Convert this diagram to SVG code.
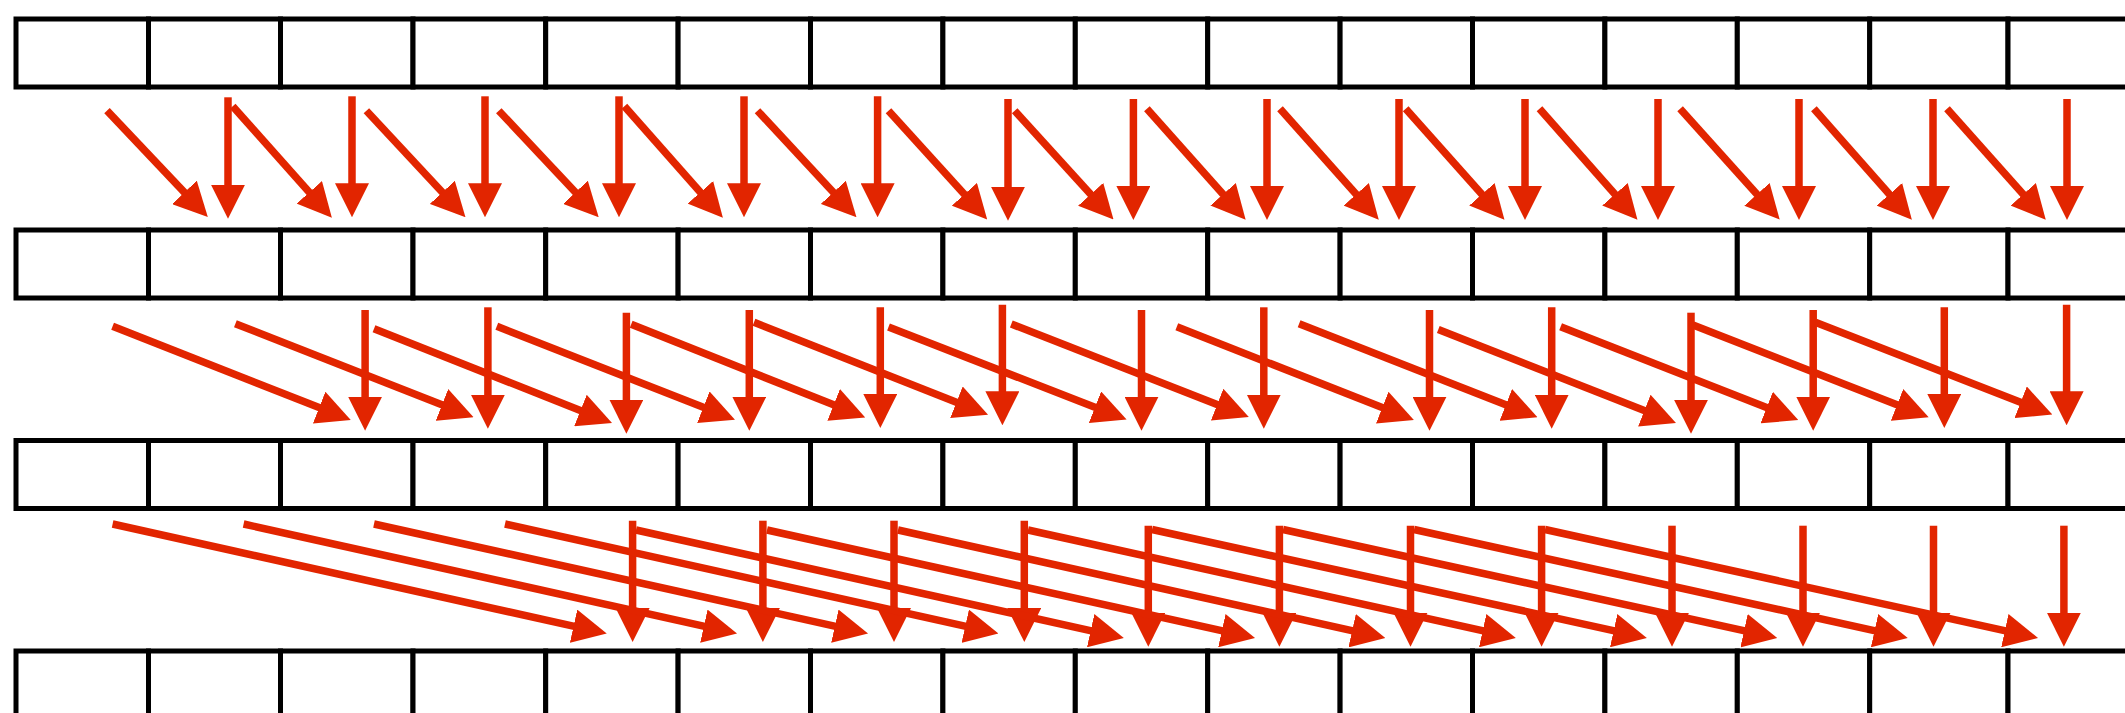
<svg xmlns="http://www.w3.org/2000/svg" width="2125" height="713" viewBox="0 0 2125 713">
<defs>
<style>
.cell{fill:#fff;stroke:#000;stroke-width:5}
.arr line{stroke:#e22500;stroke-width:7.5;fill:none;marker-end:url(#ah)}
</style>
<marker id="ah" markerUnits="userSpaceOnUse" viewBox="0 0 34 34" refX="2" refY="17" markerWidth="34" markerHeight="34" orient="auto"><path d="M0,0 L34,17 L0,34 Z" fill="#e22500"/></marker>
</defs>
<rect x="0" y="0" width="2125" height="713" fill="#fff"/>
<g id="row1">
<g id="r1c0"><rect class="cell" x="16" y="19" width="132.5" height="68"/></g>
<g id="r1c1"><rect class="cell" x="148.5" y="19" width="132" height="68"/></g>
<g id="r1c2"><rect class="cell" x="280.5" y="19" width="132.5" height="68"/></g>
<g id="r1c3"><rect class="cell" x="413" y="19" width="132.7" height="68"/></g>
<g id="r1c4"><rect class="cell" x="545.7" y="19" width="132.4" height="68"/></g>
<g id="r1c5"><rect class="cell" x="678.1" y="19" width="132.4" height="68"/></g>
<g id="r1c6"><rect class="cell" x="810.5" y="19" width="132.4" height="68"/></g>
<g id="r1c7"><rect class="cell" x="942.9" y="19" width="132.4" height="68"/></g>
<g id="r1c8"><rect class="cell" x="1075.3" y="19" width="132.4" height="68"/></g>
<g id="r1c9"><rect class="cell" x="1207.7" y="19" width="132.4" height="68"/></g>
<g id="r1c10"><rect class="cell" x="1340.1" y="19" width="132.4" height="68"/></g>
<g id="r1c11"><rect class="cell" x="1472.5" y="19" width="132.4" height="68"/></g>
<g id="r1c12"><rect class="cell" x="1604.9" y="19" width="132.4" height="68"/></g>
<g id="r1c13"><rect class="cell" x="1737.3" y="19" width="132.4" height="68"/></g>
<g id="r1c14"><rect class="cell" x="1869.7" y="19" width="138.3" height="68"/></g>
<g id="r1c15"><rect class="cell" x="2008" y="19" width="192" height="68"/></g>
</g>
<g id="row2">
<g id="r2c0"><rect class="cell" x="16" y="230" width="132.5" height="68"/></g>
<g id="r2c1"><rect class="cell" x="148.5" y="230" width="132" height="68"/></g>
<g id="r2c2"><rect class="cell" x="280.5" y="230" width="132.5" height="68"/></g>
<g id="r2c3"><rect class="cell" x="413" y="230" width="132.7" height="68"/></g>
<g id="r2c4"><rect class="cell" x="545.7" y="230" width="132.4" height="68"/></g>
<g id="r2c5"><rect class="cell" x="678.1" y="230" width="132.4" height="68"/></g>
<g id="r2c6"><rect class="cell" x="810.5" y="230" width="132.4" height="68"/></g>
<g id="r2c7"><rect class="cell" x="942.9" y="230" width="132.4" height="68"/></g>
<g id="r2c8"><rect class="cell" x="1075.3" y="230" width="132.4" height="68"/></g>
<g id="r2c9"><rect class="cell" x="1207.7" y="230" width="132.4" height="68"/></g>
<g id="r2c10"><rect class="cell" x="1340.1" y="230" width="132.4" height="68"/></g>
<g id="r2c11"><rect class="cell" x="1472.5" y="230" width="132.4" height="68"/></g>
<g id="r2c12"><rect class="cell" x="1604.9" y="230" width="132.4" height="68"/></g>
<g id="r2c13"><rect class="cell" x="1737.3" y="230" width="132.4" height="68"/></g>
<g id="r2c14"><rect class="cell" x="1869.7" y="230" width="138.3" height="68"/></g>
<g id="r2c15"><rect class="cell" x="2008" y="230" width="192" height="68"/></g>
</g>
<g id="row3">
<g id="r3c0"><rect class="cell" x="16" y="440.5" width="132.5" height="68"/></g>
<g id="r3c1"><rect class="cell" x="148.5" y="440.5" width="132" height="68"/></g>
<g id="r3c2"><rect class="cell" x="280.5" y="440.5" width="132.5" height="68"/></g>
<g id="r3c3"><rect class="cell" x="413" y="440.5" width="132.7" height="68"/></g>
<g id="r3c4"><rect class="cell" x="545.7" y="440.5" width="132.4" height="68"/></g>
<g id="r3c5"><rect class="cell" x="678.1" y="440.5" width="132.4" height="68"/></g>
<g id="r3c6"><rect class="cell" x="810.5" y="440.5" width="132.4" height="68"/></g>
<g id="r3c7"><rect class="cell" x="942.9" y="440.5" width="132.4" height="68"/></g>
<g id="r3c8"><rect class="cell" x="1075.3" y="440.5" width="132.4" height="68"/></g>
<g id="r3c9"><rect class="cell" x="1207.7" y="440.5" width="132.4" height="68"/></g>
<g id="r3c10"><rect class="cell" x="1340.1" y="440.5" width="132.4" height="68"/></g>
<g id="r3c11"><rect class="cell" x="1472.5" y="440.5" width="132.4" height="68"/></g>
<g id="r3c12"><rect class="cell" x="1604.9" y="440.5" width="132.4" height="68"/></g>
<g id="r3c13"><rect class="cell" x="1737.3" y="440.5" width="132.4" height="68"/></g>
<g id="r3c14"><rect class="cell" x="1869.7" y="440.5" width="138.3" height="68"/></g>
<g id="r3c15"><rect class="cell" x="2008" y="440.5" width="192" height="68"/></g>
</g>
<g id="row4">
<g id="r4c0"><rect class="cell" x="16" y="651" width="132.5" height="120"/></g>
<g id="r4c1"><rect class="cell" x="148.5" y="651" width="132" height="120"/></g>
<g id="r4c2"><rect class="cell" x="280.5" y="651" width="132.5" height="120"/></g>
<g id="r4c3"><rect class="cell" x="413" y="651" width="132.7" height="120"/></g>
<g id="r4c4"><rect class="cell" x="545.7" y="651" width="132.4" height="120"/></g>
<g id="r4c5"><rect class="cell" x="678.1" y="651" width="132.4" height="120"/></g>
<g id="r4c6"><rect class="cell" x="810.5" y="651" width="132.4" height="120"/></g>
<g id="r4c7"><rect class="cell" x="942.9" y="651" width="132.4" height="120"/></g>
<g id="r4c8"><rect class="cell" x="1075.3" y="651" width="132.4" height="120"/></g>
<g id="r4c9"><rect class="cell" x="1207.7" y="651" width="132.4" height="120"/></g>
<g id="r4c10"><rect class="cell" x="1340.1" y="651" width="132.4" height="120"/></g>
<g id="r4c11"><rect class="cell" x="1472.5" y="651" width="132.4" height="120"/></g>
<g id="r4c12"><rect class="cell" x="1604.9" y="651" width="132.4" height="120"/></g>
<g id="r4c13"><rect class="cell" x="1737.3" y="651" width="132.4" height="120"/></g>
<g id="r4c14"><rect class="cell" x="1869.7" y="651" width="138.3" height="120"/></g>
<g id="r4c15"><rect class="cell" x="2008" y="651" width="192" height="120"/></g>
</g>
<g id="connectors" class="arr">
<line x1="228" y1="97.3" x2="228" y2="186.7"/>
<line x1="352" y1="96.3" x2="352" y2="185.3"/>
<line x1="485" y1="96.3" x2="485" y2="185.3"/>
<line x1="619" y1="96.3" x2="619" y2="185.3"/>
<line x1="744" y1="96.3" x2="744" y2="185.3"/>
<line x1="877.6" y1="96.3" x2="877.6" y2="185.3"/>
<line x1="1008" y1="99" x2="1008" y2="188.7"/>
<line x1="1133.4" y1="99" x2="1133.4" y2="188"/>
<line x1="1267" y1="99" x2="1267" y2="188"/>
<line x1="1399" y1="99" x2="1399" y2="188"/>
<line x1="1525" y1="99" x2="1525" y2="188"/>
<line x1="1658" y1="99" x2="1658" y2="188"/>
<line x1="1799" y1="99" x2="1799" y2="188"/>
<line x1="1933" y1="99" x2="1933" y2="188"/>
<line x1="2067" y1="99" x2="2067" y2="188"/>
<line x1="107" y1="110.7" x2="185.8" y2="193.8"/>
<line x1="232.7" y1="106.3" x2="310.6" y2="193.8"/>
<line x1="366.4" y1="110.7" x2="443.7" y2="193.8"/>
<line x1="498.8" y1="110.7" x2="576.8" y2="193.8"/>
<line x1="624.4" y1="106.3" x2="701.7" y2="193.8"/>
<line x1="757.5" y1="110.7" x2="834.7" y2="193.8"/>
<line x1="888.5" y1="110.7" x2="965.7" y2="195.8"/>
<line x1="1014.7" y1="110.7" x2="1092" y2="195.8"/>
<line x1="1146.9" y1="108.7" x2="1224.4" y2="195.8"/>
<line x1="1280" y1="108.7" x2="1357.5" y2="195.8"/>
<line x1="1405.7" y1="108.7" x2="1483.2" y2="195.8"/>
<line x1="1539.5" y1="108.7" x2="1616.3" y2="195.8"/>
<line x1="1680.1" y1="108.7" x2="1758.3" y2="195.8"/>
<line x1="1813.9" y1="108.7" x2="1890.7" y2="195.8"/>
<line x1="1947" y1="108.7" x2="2024.5" y2="195.8"/>
<line x1="365.1" y1="310" x2="365.1" y2="398.7"/>
<line x1="487.9" y1="307.3" x2="487.9" y2="396.7"/>
<line x1="626.4" y1="312.7" x2="626.4" y2="401.7"/>
<line x1="749.3" y1="310" x2="749.3" y2="398.7"/>
<line x1="880.3" y1="307.3" x2="880.3" y2="396"/>
<line x1="1002.4" y1="304.7" x2="1002.4" y2="393.3"/>
<line x1="1141.5" y1="310" x2="1141.5" y2="398.7"/>
<line x1="1263.8" y1="307.3" x2="1263.8" y2="396.7"/>
<line x1="1429.5" y1="310" x2="1429.5" y2="398.7"/>
<line x1="1551.7" y1="307.3" x2="1551.7" y2="396.7"/>
<line x1="1691" y1="312.7" x2="1691" y2="401.7"/>
<line x1="1813.2" y1="310" x2="1813.2" y2="398.7"/>
<line x1="1944.3" y1="307.3" x2="1944.3" y2="396"/>
<line x1="2066.6" y1="304.7" x2="2066.6" y2="393.3"/>
<line x1="112.6" y1="326.3" x2="321" y2="408.3"/>
<line x1="235.4" y1="323.7" x2="443.8" y2="405.6"/>
<line x1="374" y1="328.7" x2="582.3" y2="411.3"/>
<line x1="496.8" y1="326.3" x2="705.2" y2="408"/>
<line x1="631.2" y1="324.3" x2="835.5" y2="405.6"/>
<line x1="754" y1="322.3" x2="958.3" y2="403"/>
<line x1="888.5" y1="327" x2="1096.8" y2="408"/>
<line x1="1011.3" y1="324" x2="1219" y2="405.3"/>
<line x1="1176.8" y1="326.7" x2="1384.1" y2="408.3"/>
<line x1="1299.1" y1="323.8" x2="1507.7" y2="405.6"/>
<line x1="1438.3" y1="329.5" x2="1646.2" y2="411.3"/>
<line x1="1560.6" y1="326.7" x2="1768.5" y2="408.3"/>
<line x1="1693" y1="325" x2="1898.9" y2="405.6"/>
<line x1="1815.3" y1="322.3" x2="2022.5" y2="403"/>
<line x1="632.6" y1="520.7" x2="632.6" y2="610"/>
<line x1="762.9" y1="520.7" x2="762.9" y2="610"/>
<line x1="894" y1="520.7" x2="894" y2="610"/>
<line x1="1024.3" y1="520.7" x2="1024.3" y2="610"/>
<line x1="1148.3" y1="525.7" x2="1148.3" y2="614.7"/>
<line x1="1279.4" y1="525.7" x2="1279.4" y2="614.7"/>
<line x1="1410.5" y1="525.7" x2="1410.5" y2="614.7"/>
<line x1="1541.6" y1="525.7" x2="1541.6" y2="614.7"/>
<line x1="1672" y1="525.7" x2="1672" y2="614.7"/>
<line x1="1803" y1="525.7" x2="1803" y2="614.7"/>
<line x1="1933.5" y1="525.7" x2="1933.5" y2="614.7"/>
<line x1="2063.9" y1="525.7" x2="2063.9" y2="614.7"/>
<line x1="112.6" y1="524" x2="575.5" y2="626.6"/>
<line x1="243.6" y1="524" x2="705.8" y2="626.6"/>
<line x1="374" y1="524" x2="836.8" y2="626.6"/>
<line x1="505" y1="524" x2="967.2" y2="626.6"/>
<line x1="636" y1="530" x2="1092.6" y2="631.1"/>
<line x1="767" y1="530" x2="1223.8" y2="631.1"/>
<line x1="898" y1="530" x2="1354.1" y2="631.1"/>
<line x1="1028" y1="530" x2="1484.6" y2="631.1"/>
<line x1="1152" y1="529.5" x2="1615.6" y2="631.1"/>
<line x1="1283" y1="529.5" x2="1746" y2="631.1"/>
<line x1="1414" y1="529.5" x2="1876.5" y2="631.1"/>
<line x1="1545" y1="529.5" x2="2006.8" y2="631.1"/>
</g>
</svg>
